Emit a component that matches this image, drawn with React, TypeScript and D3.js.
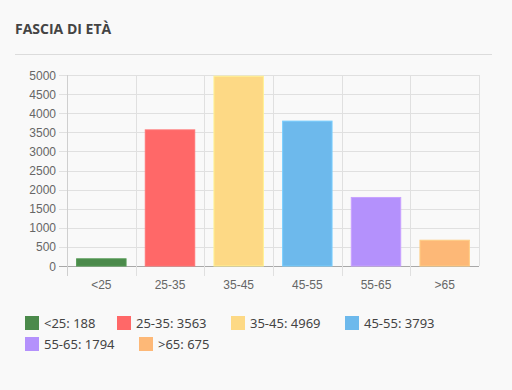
import React, { useEffect, useRef } from 'react';
import * as d3 from 'd3';

const categories = ['<25', '25-35', '35-45', '45-55', '55-65', '>65'];
const values = [188, 3563, 4969, 3793, 1794, 675];
const barColors = ['#4b8a4b', '#ff6868', '#fdd985', '#6db9ec', '#b491fc', '#fdb877'];
const yTicks = [0, 500, 1000, 1500, 2000, 2500, 3000, 3500, 4000, 4500, 5000];

const W = 512;
const H = 390;

const App = () => {
  const svgRef = useRef<SVGSVGElement | null>(null);

  useEffect(() => {
    const svgEl = svgRef.current;
    if (!svgEl) return;
    const svg = d3.select(svgEl);
    svg.selectAll('*').remove();

    svg.append('rect').attr('width', W).attr('height', H).attr('fill', '#f9f9f9');

    // titolo
    svg
      .append('text')
      .attr('x', 15)
      .attr('y', 34)
      .attr('fill', '#444')
      .attr('font-size', 14)
      .attr('font-weight', 700)
      .attr('font-family', '"Open Sans", sans-serif')
      .text('FASCIA DI ETÀ');

    svg
      .append('line')
      .attr('x1', 15)
      .attr('x2', 492)
      .attr('y1', 54.5)
      .attr('y2', 54.5)
      .attr('stroke', '#dcdcdc');

    const left = 67;
    const right = 479;
    const top = 75;
    const bottom = 266;

    const x = d3.scaleBand().domain(categories).range([left, right]);
    const y = d3.scaleLinear().domain([0, 5000]).range([bottom, top]);

    const g = svg.append('g');

    // griglia orizzontale
    g.selectAll('.hgrid')
      .data(yTicks)
      .enter()
      .append('line')
      .attr('x1', left - 8)
      .attr('x2', right)
      .attr('y1', (d) => Math.round(y(d)) + 0.5)
      .attr('y2', (d) => Math.round(y(d)) + 0.5)
      .attr('stroke', (d) => (d === 0 ? '#a8a8a8' : '#e0e0e0'));

    // griglia verticale
    const vx = categories.map((c) => x(c) as number).concat([right]);
    g.selectAll('.vgrid')
      .data(vx)
      .enter()
      .append('line')
      .attr('x1', (d) => Math.round(d) + 0.5)
      .attr('x2', (d) => Math.round(d) + 0.5)
      .attr('y1', top)
      .attr('y2', (d, i) => (i === vx.length - 1 ? bottom : bottom + 10))
      .attr('stroke', (d, i) => (i === 0 ? '#cfcfcf' : '#e0e0e0'));

    g.selectAll('.ylab')
      .data(yTicks)
      .enter()
      .append('text')
      .attr('x', left - 11)
      .attr('y', (d) => y(d) + 4.5)
      .attr('text-anchor', 'end')
      .attr('fill', '#666')
      .attr('font-size', 12)
      .attr('font-family', '"Liberation Sans", Arial, sans-serif')
      .text((d) => d);

    g.selectAll('.xlab')
      .data(categories)
      .enter()
      .append('text')
      .attr('x', (d) => (x(d) as number) + x.bandwidth() / 2)
      .attr('y', 289)
      .attr('text-anchor', 'middle')
      .attr('fill', '#666')
      .attr('font-size', 12)
      .attr('font-family', '"Liberation Sans", Arial, sans-serif')
      .text((d) => d);

    const bw = x.bandwidth() * 0.72;
    g.selectAll('.bar')
      .data(values)
      .enter()
      .append('rect')
      .attr('x', (d, i) => (x(categories[i]) as number) + (x.bandwidth() - bw) / 2)
      .attr('y', (d) => y(d))
      .attr('width', bw)
      .attr('height', (d) => bottom - y(d))
      .attr('fill', (d, i) => barColors[i])
      .attr('stroke', (d, i) => d3.color(barColors[i])!.brighter(0.3).formatHex())
      .attr('stroke-width', 1);

    // legenda
    const rows = [
      [0, 1, 2, 3],
      [4, 5],
    ];
    const legendX = [
      [25, 117, 231, 345],
      [25, 139],
    ];
    rows.forEach((row, r) => {
      row.forEach((idx, k) => {
        const lx = legendX[r][k];
        const ly = 316 + r * 21;
        svg
          .append('rect')
          .attr('x', lx)
          .attr('y', ly)
          .attr('width', 14)
          .attr('height', 14)
          .attr('fill', barColors[idx]);
        svg
          .append('text')
          .attr('x', lx + 19)
          .attr('y', ly + 11.5)
          .attr('fill', '#444')
          .attr('font-size', 13)
          .attr('font-family', '"Noto Sans", sans-serif')
          .text(`${categories[idx]}: ${values[idx]}`);
      });
    });
  }, []);

  return (
    <svg
      ref={svgRef}
      width={W}
      height={H}
      style={{ position: 'absolute', left: 0, top: 0, display: 'block' }}
    />
  );
};

export default App;
